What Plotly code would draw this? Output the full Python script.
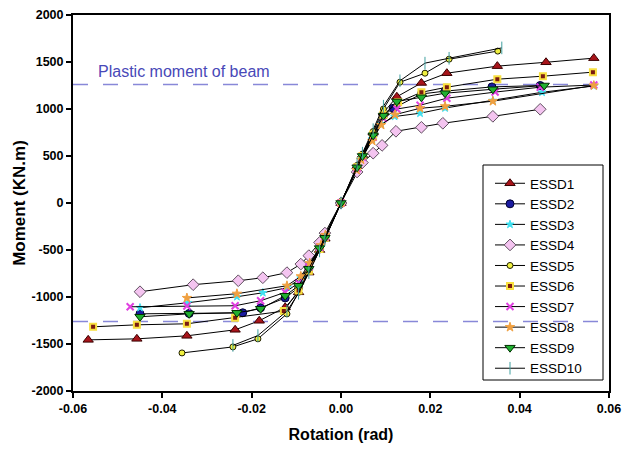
import plotly.graph_objects as go

names = ["ESSD1", "ESSD2", "ESSD3", "ESSD4", "ESSD5", "ESSD6", "ESSD7", "ESSD8", "ESSD9", "ESSD10"]

rot_essd1 = [-0.0566, -0.0457, -0.0345, -0.0237, -0.0183, -0.0125, -0.0095, -0.0072, -0.0048, -0.0036, 0, 0.0036, 0.0048, 0.0072, 0.0095, 0.0125, 0.018, 0.0237, 0.035, 0.0459, 0.0566]
mom_essd1 = [-1456, -1445, -1413, -1349, -1253, -1110, -950, -740, -500, -380, 0, 390, 510, 750, 960, 1130, 1277, 1381, 1456, 1497, 1541]

rot_essd2 = [-0.045, -0.034, -0.022, -0.018, -0.0125, -0.0095, -0.0072, -0.0048, -0.0036, 0, 0.0036, 0.0048, 0.0072, 0.0095, 0.0117, 0.018, 0.0233, 0.0338, 0.0446]
mom_essd2 = [-1179, -1175, -1168, -1115, -1010, -900, -700, -480, -370, 0, 380, 500, 720, 930, 1008, 1160, 1190, 1235, 1250]

rot_essd3 = [-0.045, -0.0343, -0.0233, -0.0175, -0.012, -0.009, -0.007, -0.0045, -0.0035, 0, 0.0035, 0.0045, 0.007, 0.009, 0.012, 0.0177, 0.0233, 0.034, 0.045, 0.0566]
mom_essd3 = [-1114, -1061, -997, -955, -900, -800, -650, -460, -350, 0, 350, 470, 680, 840, 920, 955, 1010, 1090, 1178, 1245]

rot_essd4 = [-0.045, -0.0331, -0.023, -0.0175, -0.0121, -0.009, -0.0072, -0.0048, -0.0036, 0, 0.0036, 0.0048, 0.0072, 0.0092, 0.0123, 0.018, 0.0228, 0.034, 0.0446]
mom_essd4 = [-944, -869, -827, -795, -741, -650, -560, -420, -320, 0, 330, 430, 530, 613, 763, 805, 848, 922, 997]

rot_essd5 = [-0.0356, -0.0242, -0.0186, -0.0121, -0.0095, -0.0072, -0.0048, -0.0036, 0, 0.0036, 0.0048, 0.0072, 0.0095, 0.0132, 0.0188, 0.0242, 0.0351]
mom_essd5 = [-1595, -1531, -1445, -1179, -950, -730, -500, -380, 0, 400, 520, 760, 1000, 1285, 1381, 1530, 1616]

rot_essd6 = [-0.0555, -0.0457, -0.0345, -0.0237, -0.0128, -0.0095, -0.0072, -0.0048, -0.0036, 0, 0.0036, 0.0048, 0.0072, 0.0095, 0.0128, 0.018, 0.0237, 0.035, 0.0452, 0.0564]
mom_essd6 = [-1317, -1296, -1285, -1221, -1150, -930, -720, -490, -370, 0, 380, 500, 730, 940, 1072, 1178, 1232, 1317, 1349, 1392]

rot_essd7 = [-0.0472, -0.0345, -0.0237, -0.018, -0.0125, -0.0095, -0.0072, -0.0048, -0.0036, 0, 0.0036, 0.0048, 0.0072, 0.0095, 0.0125, 0.0177, 0.0237, 0.0345, 0.0446, 0.0566]
mom_essd7 = [-1104, -1095, -1093, -1040, -950, -850, -680, -470, -360, 0, 370, 490, 700, 900, 1000, 1040, 1115, 1180, 1232, 1255]

rot_essd8 = [-0.0345, -0.0233, -0.0121, -0.009, -0.007, -0.0045, -0.0035, 0, 0.0035, 0.0045, 0.007, 0.009, 0.0121, 0.0177, 0.0233, 0.034, 0.0566]
mom_essd8 = [-1010, -965, -880, -780, -640, -450, -340, 0, 350, 460, 660, 830, 940, 1008, 1029, 1083, 1250]

rot_essd9 = [-0.045, -0.034, -0.0233, -0.018, -0.0125, -0.0095, -0.0072, -0.0048, -0.0036, 0, 0.0036, 0.0048, 0.0072, 0.0095, 0.0125, 0.018, 0.0233, 0.034, 0.0455]
mom_essd9 = [-1210, -1179, -1168, -1125, -987, -880, -700, -480, -370, 0, 380, 500, 720, 930, 1080, 1125, 1168, 1210, 1250]

rot_essd10 = [-0.0242, -0.0186, -0.0121, -0.0095, -0.0072, -0.0048, -0.0036, 0, 0.0036, 0.0048, 0.0072, 0.0095, 0.0132, 0.0188, 0.0242, 0.036]
mom_essd10 = [-1515, -1410, -1150, -960, -740, -510, -385, 0, 410, 530, 780, 1030, 1300, 1488, 1540, 1650]

plastic_moment = 1260
x_range = [-0.06, 0.06]
y_range = [-2000, 2000]
x_ticks = [-0.06, -0.04, -0.02, 0.0, 0.02, 0.04, 0.06]
y_ticks = [-2000, -1500, -1000, -500, 0, 500, 1000, 1500, 2000]

rots = [rot_essd1, rot_essd2, rot_essd3, rot_essd4, rot_essd5, rot_essd6, rot_essd7, rot_essd8, rot_essd9, rot_essd10]
moms = [mom_essd1, mom_essd2, mom_essd3, mom_essd4, mom_essd5, mom_essd6, mom_essd7, mom_essd8, mom_essd9, mom_essd10]

markers = [
    dict(symbol="triangle-up", size=9, color="#a8141a", line=dict(color="#3a0000", width=1)),
    dict(symbol="circle", size=8, color="#1a1aa0", line=dict(color="#000030", width=1)),
    dict(symbol="star", size=6, color="#40e0f0", line=dict(color="#40e0f0", width=1)),
    dict(symbol="diamond", size=9, color="#f4c4f0", line=dict(color="#605060", width=1)),
    dict(symbol="circle", size=6, color="#f0f040", line=dict(color="#202000", width=1)),
    dict(symbol="square", size=6, color="#7a1a10", line=dict(color="#f8e040", width=2)),
    dict(symbol="x-thin", size=7, color="#e040e0", line=dict(color="#e040e0", width=2)),
    dict(symbol="star", size=7, color="#f0a040", line=dict(color="#f0a040", width=1)),
    dict(symbol="triangle-down", size=9, color="#20b030", line=dict(color="#003000", width=1)),
    dict(symbol="line-ns", size=9, color="#40a0a0", line=dict(color="#40a0a0", width=1)),
]

FONT = "Liberation Sans, Arial"

fig = go.Figure()

for sgn in (1, -1):
    fig.add_trace(go.Scatter(x=x_range, y=[sgn * plastic_moment] * 2, mode="lines",
                             line=dict(color="#8888d8", width=1.5, dash="longdash"),
                             showlegend=False, hoverinfo="skip"))

for name, r, m, mk in zip(names, rots, moms, markers):
    fig.add_trace(go.Scatter(x=r, y=m, mode="lines+markers", name=name,
                             line=dict(color="black", width=1), marker=mk))

fig.add_annotation(x=-0.0549, y=1403, xref="x", yref="y", text="Plastic moment of beam",
                   showarrow=False, xanchor="left", yanchor="middle",
                   font=dict(family=FONT, size=16, color="#4848b8"))

# legend frame
fig.add_shape(type="rect", xref="paper", yref="paper",
              x0=(483 - 73) / 536, x1=(603 - 73) / 536,
              y0=(391 - 380) / 376, y1=(391 - 165) / 376,
              line=dict(color="black", width=1), fillcolor="rgba(0,0,0,0)", layer="above")

axis_common = dict(showline=True, linecolor="black", linewidth=2, mirror=True,
                   ticks="outside", ticklen=5, tickwidth=1.5, tickcolor="black",
                   showgrid=False, zeroline=False, automargin=False,
                   tickfont=dict(family=FONT, size=12.5, color="black"))

fig.update_xaxes(range=x_range, tickvals=x_ticks, ticktext=[f"<b>{v:.2f}</b>" for v in x_ticks],
                 title=dict(text="<b>Rotation (rad)</b>", font=dict(family=FONT, size=16, color="black"), standoff=14),
                 **axis_common)
fig.update_yaxes(range=y_range, tickvals=y_ticks, ticktext=[f"<b>{v}</b>" for v in y_ticks],
                 title=dict(text="<b>Moment (KN.m)</b>", font=dict(family=FONT, size=17, color="black"), standoff=2),
                 **axis_common)

fig.update_layout(
    width=624, height=450,
    margin=dict(l=73, r=15, t=15, b=59),
    plot_bgcolor="white", paper_bgcolor="white",
    legend=dict(x=(490 - 73) / 536, y=(391 - 168) / 376, xanchor="left", yanchor="top",
                bgcolor="rgba(255,255,255,0)", borderwidth=0,
                font=dict(family=FONT, size=13.5, color="black"),
                tracegroupgap=0, itemsizing="trace"),
    showlegend=True,
)

fig.write_html("out.html", config={"displayModeBar": False},
               post_script="document.body.style.margin='0';document.body.style.padding='0';")
